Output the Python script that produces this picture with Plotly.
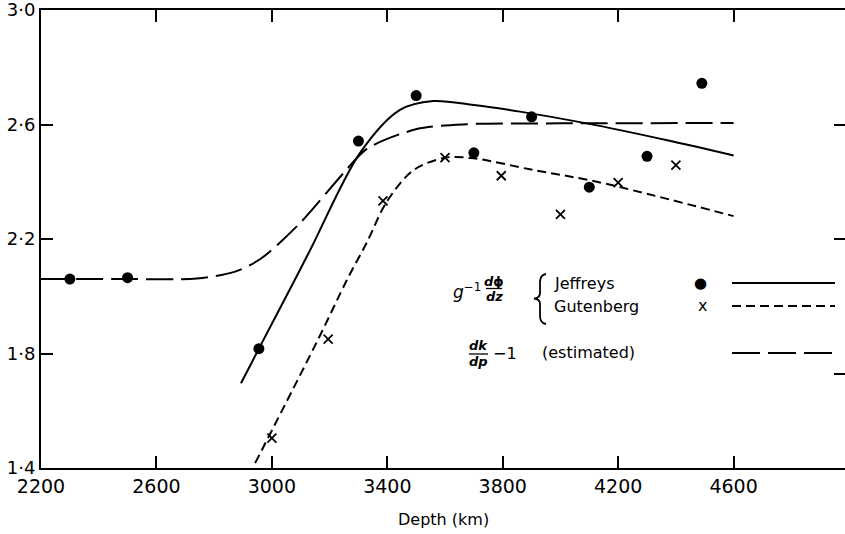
import plotly.graph_objects as go

# ---------------- data ----------------
x_tickvals = [2200, 2600, 3000, 3400, 3800, 4200, 4600]
x_ticktext = ["2200", "2600", "3000", "3400", "3800", "4200", "4600"]
y_tickvals = [1.4, 1.8, 2.2, 2.6, 3.0]
y_ticktext = ["1·4", "1·8", "2·2", "2·6", "3·0"]
right_tickvals = [1.73, 2.2, 2.6]

# Jeffreys points (dots)
jeff_x = [2300, 2500, 2955, 3300, 3500, 3700, 3900, 4100, 4300, 4490]
jeff_y = [2.060, 2.065, 1.817, 2.542, 2.701, 2.501, 2.627, 2.381, 2.489, 2.744]

# Gutenberg points (crosses)
gut_x = [3000, 3195, 3385, 3600, 3795, 4000, 4200, 4400]
gut_y = [1.504, 1.850, 2.333, 2.484, 2.421, 2.286, 2.397, 2.458]

# Jeffreys curve (solid)
jeff_curve_x = [2893, 2955, 3086, 3138, 3305, 3444, 3559, 3700, 3860, 4091, 4370, 4600]
jeff_curve_y = [1.696, 1.817, 2.070, 2.172, 2.500, 2.651, 2.682, 2.668, 2.645, 2.604, 2.545, 2.492]

# Gutenberg curve (short dashes)
gut_curve_x = [2942, 3163, 3259, 3330, 3398, 3490, 3600, 3698, 3906, 4126, 4600]
gut_curve_y = [1.417, 1.855, 2.055, 2.190, 2.330, 2.440, 2.484, 2.482, 2.441, 2.400, 2.280]

# dk/dp - 1 (estimated), long dashes
est_curve_x = [2200, 2500, 2740, 2870, 2960, 3097, 3248, 3329, 3502, 3675, 4000, 4600]
est_curve_y = [2.060, 2.060, 2.062, 2.085, 2.130, 2.255, 2.430, 2.515, 2.584, 2.601, 2.604, 2.605]

# ---------------- layout geometry ----------------
W, H = 845, 534
ML, MR, MT, MB = 41, 0, 10, 66
X_RANGE = [2200, 4986]
Y_RANGE = [1.4, 3.0]
PW, PH = W - ML - MR, H - MT - MB

def px(x):
    return (x - ML) / PW

def py(y):
    return (H - MB - y) / PH

FONT = "DejaVu Sans"
BLACK = "black"

fig = go.Figure()

fig.add_trace(go.Scatter(x=est_curve_x, y=est_curve_y, mode="lines",
                         line=dict(color=BLACK, width=2, dash="27px,8px", shape="spline", smoothing=0.8),
                         showlegend=False, hoverinfo="skip"))
fig.add_trace(go.Scatter(x=jeff_curve_x, y=jeff_curve_y, mode="lines",
                         line=dict(color=BLACK, width=2, shape="spline", smoothing=0.9),
                         showlegend=False, hoverinfo="skip"))
fig.add_trace(go.Scatter(x=gut_curve_x, y=gut_curve_y, mode="lines",
                         line=dict(color=BLACK, width=2, dash="9px,5px", shape="spline", smoothing=0.9),
                         showlegend=False, hoverinfo="skip"))
fig.add_trace(go.Scatter(x=jeff_x, y=jeff_y, mode="markers",
                         marker=dict(symbol="circle", size=11, color=BLACK),
                         showlegend=False))
fig.add_trace(go.Scatter(x=gut_x, y=gut_y, mode="markers",
                         marker=dict(symbol="x-thin", size=9, line=dict(color=BLACK, width=1.8)),
                         showlegend=False))
# carrier for right-hand tick axis
fig.add_trace(go.Scatter(x=[None], y=[None], yaxis="y2", showlegend=False, hoverinfo="skip"))

# ---------------- legend (drawn as annotations / shapes) ----------------
ann = []
def text(x, y, s, size=16, xanchor="left", font=FONT):
    ann.append(dict(x=px(x), y=py(y), xref="paper", yref="paper", text=s, showarrow=False,
                    xanchor=xanchor, yanchor="middle", font=dict(family=font, size=size, color=BLACK)))

text(483, 291, "<i>g</i><sup>−1</sup>", size=17, xanchor="right")
text(494, 281, "<b><i>d</i>ϕ</b>", size=13, xanchor="center")
text(494, 296, "<b><i>dz</i></b>", size=13, xanchor="center")
text(552, 283, "Jeffreys")
text(552, 306, "Gutenberg")
text(700, 283, "●", size=15, xanchor="center")
text(702, 305, "x", size=16, xanchor="center")
text(478, 346, "<b><i>dk</i></b>", size=13, xanchor="center")
text(478, 361, "<b><i>dp</i></b>", size=13, xanchor="center")
text(491, 353, "−1", size=16)
text(540, 352, "(estimated)")
ann.append(dict(x=0.5, y=py(519), xref="paper", yref="paper", text="Depth (km)", showarrow=False,
                xanchor="center", yanchor="middle", font=dict(family=FONT, size=16, color=BLACK)))

shapes = []
def hline(x0, x1, y, dash="solid", width=2):
    shapes.append(dict(type="line", xref="paper", yref="paper", x0=px(x0), x1=px(x1), y0=py(y), y1=py(y),
                       line=dict(color=BLACK, width=width, dash=dash)))

hline(732, 835, 283)
hline(732, 835, 306, dash="9px,5px")
hline(732, 835, 353, dash="28px,8px")
hline(486, 502, 288.5, width=1.3)
hline(469, 488, 354, width=1.3)

pts = [(546, 274), (540, 275), (540, 282), (540, 293), (540, 298), (534, 298.5),
       (540, 299), (540, 304), (540, 316), (540, 323), (546, 324)]
P = [f"{px(a):.5f},{py(b):.5f}" for a, b in pts]
path = (f"M {P[0]} Q {P[1]} {P[2]} L {P[3]} Q {P[4]} {P[5]} Q {P[6]} {P[7]} "
        f"L {P[8]} Q {P[9]} {P[10]}")
shapes.append(dict(type="path", xref="paper", yref="paper", path=path,
                   line=dict(color=BLACK, width=1.8)))

axis_common = dict(showgrid=False, zeroline=False, ticks="inside", tickcolor=BLACK,
                   tickwidth=1.6, showline=True, linecolor=BLACK, linewidth=2,
                   ticklabeloverflow="allow", automargin=False)

fig.update_layout(
    width=W, height=H,
    margin=dict(l=ML, r=MR, t=MT, b=MB, pad=0),
    paper_bgcolor="white", plot_bgcolor="white",
    showlegend=False,
    xaxis=dict(range=X_RANGE, tickvals=x_tickvals, ticktext=x_ticktext, ticklen=12,
               mirror="ticks", tickfont=dict(family=FONT, size=19, color=BLACK), **axis_common),
    yaxis=dict(range=Y_RANGE, tickvals=y_tickvals, ticktext=y_ticktext, ticklen=12,
               mirror=False, tickfont=dict(family=FONT, size=18, color=BLACK), **axis_common),
    yaxis2=dict(range=Y_RANGE, overlaying="y", side="right", tickvals=right_tickvals,
                showticklabels=False, ticks="inside", ticklen=11, tickwidth=1.6, tickcolor=BLACK,
                showline=False, showgrid=False, zeroline=False),
    annotations=ann,
    shapes=shapes,
)

fig.write_html("out.html", config={"displayModeBar": False},
               post_script="document.body.style.margin='0';document.body.style.overflow='hidden';")
